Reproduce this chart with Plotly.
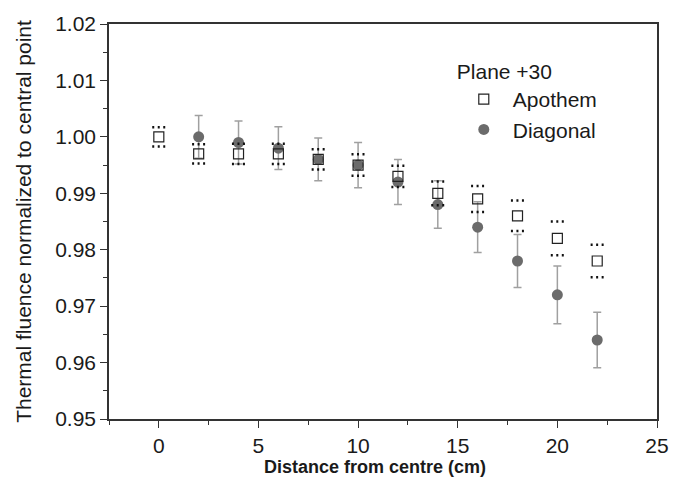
import plotly.graph_objects as go

# ---- data ----
apothem_x = [0, 2, 4, 6, 8, 10, 12, 14, 16, 18, 20, 22]
apothem_y = [1.000, 0.997, 0.997, 0.997, 0.996, 0.995, 0.993, 0.990, 0.989, 0.986, 0.982, 0.978]
apothem_err = [0.0017, 0.0017, 0.0018, 0.0018, 0.0018, 0.0019, 0.0019, 0.0021, 0.0023, 0.0027, 0.0030, 0.0029]

diagonal_x = [2, 4, 6, 8, 10, 12, 14, 16, 18, 20, 22]
diagonal_y = [1.000, 0.999, 0.998, 0.996, 0.995, 0.992, 0.988, 0.984, 0.978, 0.972, 0.964]
diagonal_err = [0.0038, 0.0038, 0.0038, 0.0038, 0.0040, 0.0040, 0.0042, 0.0045, 0.0047, 0.0051, 0.0049]

x_ticks = [0, 5, 10, 15, 20, 25]
y_ticks = [0.95, 0.96, 0.97, 0.98, 0.99, 1.00, 1.01, 1.02]

FONT = "Liberation Sans, Arial, sans-serif"
CAP_HALF = 0.33  # cap half-width in x units (style)

fig = go.Figure()

# Diagonal: grey filled circles with solid grey error bars
fig.add_trace(go.Scatter(
    x=diagonal_x, y=diagonal_y, mode="markers", name="Diagonal",
    legendrank=2,
    marker=dict(symbol="circle", size=11, color="#6b6b6b", line=dict(width=0)),
    error_y=dict(type="data", array=diagonal_err, visible=True,
                 color="#a0a0a0", thickness=1.5, width=4),
))

# Apothem: open squares
fig.add_trace(go.Scatter(
    x=apothem_x, y=apothem_y, mode="markers", name="Apothem",
    legendrank=1,
    marker=dict(symbol="square-open", size=10, color="#222222", line=dict(width=1.2)),
))

# Apothem dotted error caps
cx, cy = [], []
for xi, yi, ei in zip(apothem_x, apothem_y, apothem_err):
    for yy in (yi + ei, yi - ei):
        cx += [xi - CAP_HALF, xi + CAP_HALF, None]
        cy += [yy, yy, None]
fig.add_trace(go.Scatter(
    x=cx, y=cy, mode="lines", showlegend=False, hoverinfo="skip",
    line=dict(color="#111111", width=2.5, dash="2px,3.5px"),
))

axis_common = dict(
    showline=True, linecolor="#333333", linewidth=1.5, mirror=True,
    ticks="outside", ticklen=7, tickwidth=1.2, tickcolor="#333333",
    showgrid=False, zeroline=False,
    tickfont=dict(family=FONT, size=21, color="#1a1a1a"),
)

fig.update_xaxes(
    range=[-2.5, 25], tickvals=x_ticks,
    minor=dict(dtick=2.5, ticks="outside", ticklen=4, tickcolor="#333333", tickwidth=1.2),
    **axis_common,
)
fig.update_yaxes(
    range=[0.95, 1.02], tickvals=y_ticks, tickformat=".2f",
    minor=dict(dtick=0.005, ticks="outside", ticklen=4, tickcolor="#333333", tickwidth=1.2),
    title=dict(text="Thermal fluence normalized to central point",
               font=dict(family=FONT, size=21, color="#1a1a1a"), standoff=18),
    **axis_common,
)

fig.add_annotation(
    text="<b>Distance from centre (cm)</b>", xref="paper", yref="paper",
    x=0.485, y=0, yshift=-48, xanchor="center", yanchor="middle",
    showarrow=False, font=dict(family=FONT, size=18, color="#1a1a1a"),
)

fig.update_layout(
    width=683, height=489,
    margin=dict(l=109, r=26, t=16, b=70),
    paper_bgcolor="white", plot_bgcolor="white",
    showlegend=True,
    legend=dict(
        title=dict(text="Plane +30", font=dict(family=FONT, size=21, color="#1a1a1a")),
        font=dict(family=FONT, size=21, color="#1a1a1a"),
        x=0.631, y=0.93, xanchor="left", yanchor="top",
        bgcolor="rgba(0,0,0,0)", itemwidth=48,
    ),
)

fig.write_html("out.html")
